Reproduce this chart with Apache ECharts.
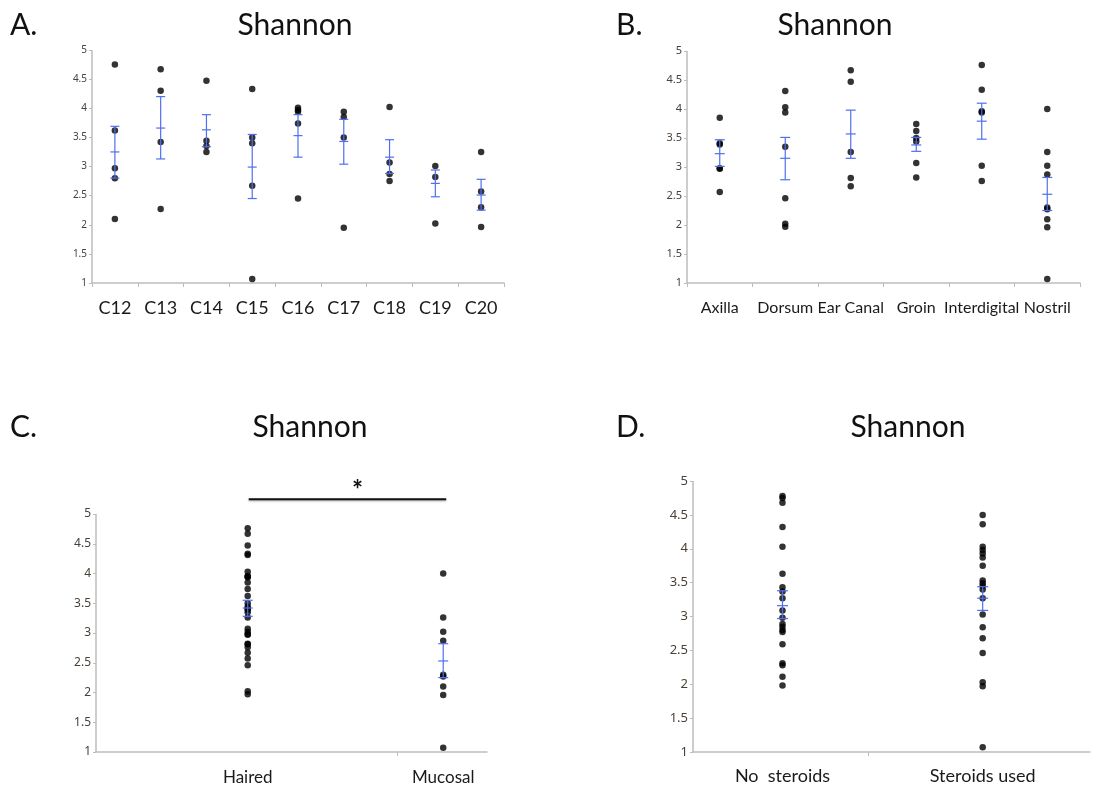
<!DOCTYPE html>
<html>
<head>
<meta charset="utf-8">
<script src="https://cdn.jsdelivr.net/npm/echarts@6/dist/echarts.min.js"></script>
<style>
html,body{margin:0;padding:0;background:#fff;}
#c{width:1094px;height:791px;}
</style>
</head>
<body>
<div id="c"></div>
<script>
// ---------- Panel A: by subject ----------
const catsA = ['C12','C13','C14','C15','C16','C17','C18','C19','C20'];
const ptsA = [
  [4.75, 3.62, 2.97, 2.80, 2.10],
  [4.67, 4.30, 3.42, 2.27],
  [4.47, 3.44, 3.35, 3.25],
  [4.33, 3.50, 3.40, 2.67, 1.07],
  [4.01, 3.97, 3.94, 3.74, 2.45],
  [3.94, 3.85, 3.50, 1.95],
  [4.02, 3.07, 2.87, 2.75],
  [3.01, 2.82, 2.02],
  [3.25, 2.57, 2.30, 1.96]
];
const meanA = [3.25, 3.66, 3.63, 2.99, 3.53, 3.43, 3.16, 2.71, 2.51];
const lowA  = [2.80, 3.13, 3.34, 2.45, 3.16, 3.04, 2.88, 2.48, 2.25];
const highA = [3.69, 4.20, 3.89, 3.55, 3.89, 3.81, 3.46, 2.94, 2.78];

// ---------- Panel B: by site ----------
const catsB = ['Axilla','Dorsum','Ear Canal','Groin','Interdigital','Nostril'];
const ptsB = [
  [3.85, 3.41, 3.39, 2.98, 2.97, 2.57],
  [4.31, 4.03, 3.94, 3.35, 2.46, 2.02, 1.97],
  [4.67, 4.47, 3.26, 2.81, 2.67],
  [3.74, 3.62, 3.50, 3.44, 3.07, 2.82],
  [4.76, 4.33, 3.96, 3.94, 3.02, 2.76],
  [4.00, 3.26, 3.02, 2.87, 2.30, 2.27, 2.10, 1.96, 1.07]
];
const meanB = [3.23, 3.15, 3.57, 3.38, 3.79, 2.53];
const lowB  = [3.01, 2.78, 3.15, 3.27, 3.48, 2.25];
const highB = [3.47, 3.51, 3.98, 3.51, 4.10, 2.82];

// ---------- Panel C: haired vs mucosal ----------
const catsC = ['Haired','Mucosal'];
const ptsC = [
  [3.85, 3.41, 3.39, 2.98, 2.97, 2.57, 4.31, 4.03, 3.94, 3.35, 2.46, 2.02, 1.97,
   4.67, 4.47, 3.26, 2.81, 2.67, 3.74, 3.62, 3.50, 3.44, 3.07, 2.82,
   4.76, 4.33, 3.96, 3.94, 3.02, 2.76],
  [4.00, 3.26, 3.02, 2.87, 2.30, 2.27, 2.10, 1.96, 1.07]
];
const meanC = [3.42, 2.53];
const lowC  = [3.28, 2.25];
const highC = [3.55, 2.82];

// ---------- Panel D: steroids ----------
const catsD = ['No  steroids','Steroids used'];
const ptsD = [
  [4.78, 4.75, 4.68, 4.32, 4.03, 3.63, 3.43, 3.37, 3.27, 3.09, 2.98, 2.89, 2.85, 2.80, 2.77, 2.59, 2.31, 2.28, 2.11, 1.98],
  [4.50, 4.36, 4.03, 3.98, 3.93, 3.87, 3.75, 3.53, 3.49, 3.45, 3.40, 3.27, 3.03, 2.84, 2.68, 2.46, 2.03, 1.97, 1.07]
];
const meanD = [3.16, 3.27];
const lowD  = [2.97, 3.09];
const highD = [3.38, 3.44];

const yTicks = ['1','1.5','2','2.5','3','3.5','4','4.5','5'];

// ---------- helpers ----------
const FONT = 'Lato, "Open Sans", sans-serif';
const AXIS_COLOR = '#bdbdbd';
const BAR_COLOR = '#4f6ff0';

function flatten(groups){
  const out = [];
  groups.forEach((g,i)=>g.forEach(v=>out.push([i, v])));
  return out;
}
function barData(mean, low, high){
  return mean.map((m,i)=>[i, m, low[i], high[i]]);
}
function yAxisCfg(gi, fs){
  return {
    type:'value', gridIndex:gi, min:1, max:5, interval:0.5, position:'left',
    axisLine:{show:false, onZero:false},
    axisTick:{show:true, length:3, lineStyle:{color:AXIS_COLOR}},
    splitLine:{show:false},
    axisLabel:{fontSize:fs, color:'#4a4038', fontFamily:'"Noto Sans", sans-serif', margin:5,
      formatter:(v)=>yTicks[Math.round((v-1)/0.5)]}
  };
}
function scatter(gi, groups){
  return {type:'scatter', xAxisIndex:gi, yAxisIndex:gi, data:flatten(groups),
    symbol:'circle', symbolSize:6.5, itemStyle:{color:'#000'}, silent:true, z:2};
}
// mean ± SE bars; the first item also draws the vertical axis line of its grid
function errBars(gi, mean, low, high, half){
  return {
    type:'custom', xAxisIndex:gi, yAxisIndex:gi, z:3, silent:true, clip:false,
    data:barData(mean, low, high),
    encode:{x:0, y:[1,2,3]},
    renderItem:function(params, api){
      const x = api.value(0);
      const pm = api.coord([x, api.value(1)]);
      const pl = api.coord([x, api.value(2)]);
      const ph = api.coord([x, api.value(3)]);
      const st = {stroke:BAR_COLOR, lineWidth:1.2};
      const seg = (x1,y1,x2,y2)=>({type:'line', shape:{x1,y1,x2,y2}, style:st});
      const children = [
        seg(pm[0], ph[1], pm[0], pl[1]),
        seg(pm[0]-half, ph[1], pm[0]+half, ph[1]),
        seg(pm[0]-half, pl[1], pm[0]+half, pl[1]),
        seg(pm[0]-half, pm[1], pm[0]+half, pm[1])
      ];
      if (params.dataIndex === 0) {
        const cs = params.coordSys;
        const ax = Math.round(cs.x);
        children.push({type:'line', shape:{x1:ax, y1:cs.y, x2:ax, y2:cs.y + cs.height + 0.5},
          style:{stroke:AXIS_COLOR, lineWidth:1.5}});
      }
      return {type:'group', children:children};
    }
  };
}

const titleStyle = {fontSize:30, fill:'#111', fontFamily:FONT};
function txt(x, y, s, align){
  return {type:'text', x:x, y:y, style:Object.assign({text:s, textAlign:align||'center', textVerticalAlign:'middle'}, titleStyle)};
}
const xLine = {onZero:false, show:true, lineStyle:{color:AXIS_COLOR, width:1.5}};

const option = {
  backgroundColor:'#fff',
  animation:false,
  graphic:[
    txt(10, 25, 'A.', 'left'), txt(295, 25, 'Shannon'),
    txt(616, 25, 'B.', 'left'), txt(835, 25, 'Shannon'),
    txt(10, 427, 'C.', 'left'), txt(310, 427, 'Shannon'),
    txt(616, 427, 'D.', 'left'), txt(908, 427, 'Shannon')
  ],
  grid:[
    {left:92, top:50, width:412, height:233},
    {left:687, top:51, width:393, height:232},
    {left:96, top:514, width:391, height:238},
    {left:693, top:481, width:397, height:271}
  ],
  xAxis:[
    {type:'category', gridIndex:0, data:catsA, boundaryGap:true, axisLine:xLine,
      axisTick:{show:true, length:4, lineStyle:{color:AXIS_COLOR}},
      axisLabel:{fontSize:18, color:'#1a1a1a', fontFamily:FONT, margin:16, interval:0}},
    {type:'category', gridIndex:1, data:catsB, boundaryGap:true, axisLine:xLine,
      axisTick:{show:true, length:4, lineStyle:{color:AXIS_COLOR}},
      axisLabel:{fontSize:16, color:'#1a1a1a', fontFamily:FONT, margin:17, interval:0}},
    {type:'value', gridIndex:2, min:-0.776, max:1.224, splitLine:{show:false}, axisLine:xLine,
      axisTick:{show:true, length:4, customValues:[0.763], lineStyle:{color:AXIS_COLOR}},
      axisLabel:{fontSize:17, color:'#1a1a1a', fontFamily:FONT, margin:17, customValues:[0,1],
        formatter:(v)=>catsC[Math.round(v)]}},
    {type:'value', gridIndex:3, min:-0.447, max:1.536, splitLine:{show:false}, axisLine:xLine,
      axisTick:{show:true, length:4, customValues:[0.43], lineStyle:{color:AXIS_COLOR}},
      axisLabel:{fontSize:18, color:'#1a1a1a', fontFamily:FONT, margin:15, customValues:[0,1],
        formatter:(v)=>catsD[Math.round(v)]}}
  ],
  yAxis:[yAxisCfg(0,10), yAxisCfg(1,11), yAxisCfg(2,12), yAxisCfg(3,13)],
  series:[
    scatter(0, ptsA), errBars(0, meanA, lowA, highA, 4.5),
    scatter(1, ptsB), errBars(1, meanB, lowB, highB, 5),
    scatter(2, ptsC), errBars(2, meanC, lowC, highC, 5),
    scatter(3, ptsD), errBars(3, meanD, lowD, highD, 5.5),
    {
      type:'custom', xAxisIndex:2, yAxisIndex:2, clip:false, silent:true, z:5,
      data:[[0, 1, 5.25]],
      encode:{x:[0,1], y:2},
      renderItem:function(params, api){
        const p1 = api.coord([api.value(0), api.value(2)]);
        const p2 = api.coord([api.value(1), api.value(2)]);
        return {type:'group', children:[
          {type:'line', shape:{x1:p1[0]+1, y1:p1[1], x2:p2[0]+3, y2:p2[1]},
            style:{stroke:'#111', lineWidth:2, shadowBlur:2, shadowColor:'rgba(0,0,0,0.35)', shadowOffsetY:1}},
          {type:'text', x:(p1[0]+p2[0])/2+12, y:p1[1]-9,
            style:{text:'*', fontSize:26, fontWeight:'bold', fill:'#111', fontFamily:FONT, textAlign:'center', textVerticalAlign:'middle'}}
        ]};
      }
    }
  ]
};

const chart = echarts.init(document.getElementById('c'), null, {renderer:'canvas'});
chart.setOption(option);
</script>
</body>
</html>
